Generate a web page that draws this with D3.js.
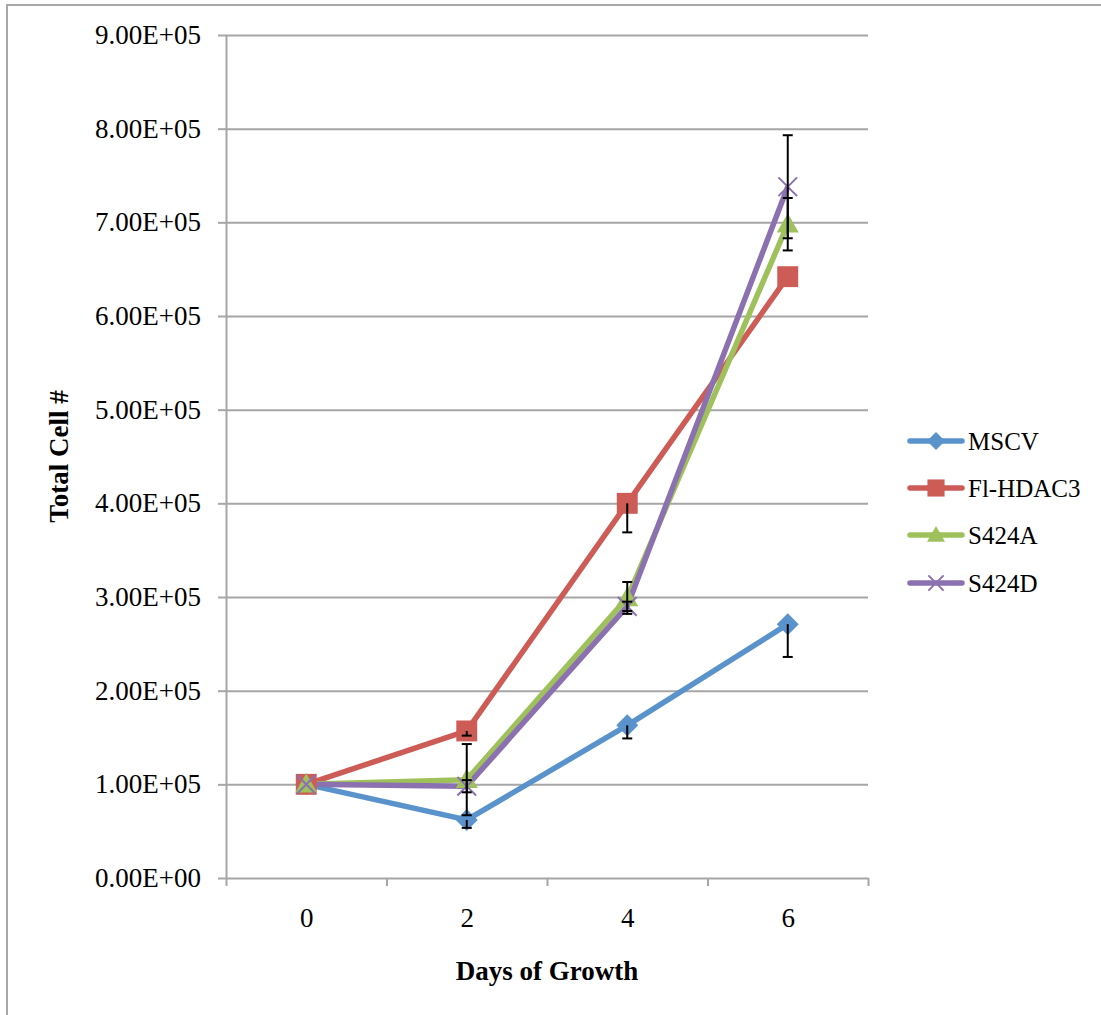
<!DOCTYPE html>
<html>
<head>
<meta charset="utf-8">
<script src="https://cdn.jsdelivr.net/npm/d3@7"></script>
<style>
  html, body { margin: 0; padding: 0; background: #fff; }
  svg { display: block; }
  text { font-family: "Liberation Serif", "DejaVu Serif", serif; fill: #000; }
</style>
</head>
<body>
<svg id="chart" width="1101" height="1015"></svg>
<script>
// ---- Data ----
const days = ["0", "2", "4", "6"];
const seriesNames = ["MSCV", "Fl-HDAC3", "S424A", "S424D"];
const mscv    = [100000, 62000, 163000, 271000];
const flHdac3 = [100000, 157000, 400000, 642000];
const s424a   = [100000, 105000, 299000, 698000];
const s424d   = [100000, 98000, 290000, 738000];
// error amounts (plus / minus)
const mscvErrPlus     = [0, 0, 0, 0];
const mscvErrMinus    = [0, 8500, 14000, 35000];
const flHdac3ErrPlus  = [0, 0, 0, 0];
const flHdac3ErrMinus = [0, 5000, 31000, 0];
const s424aErrPlus    = [0, 38000, 17000, 28000];
const s424aErrMinus   = [0, 38000, 17000, 28000];
const s424dErrPlus    = [0, 6500, 5000, 55000];
const s424dErrMinus   = [0, 6500, 5000, 55000];
const yTickValues = [0, 100000, 200000, 300000, 400000, 500000, 600000, 700000, 800000, 900000];
const xTitle = "Days of Growth";
const yTitle = "Total Cell #";

const colors = ["#5a93cc", "#cd5c56", "#9fc15c", "#8c71b0"];
const shapes = ["diamond", "square", "triangle", "x"];

const series = [
  {name: seriesNames[0], values: mscv, ep: mscvErrPlus, em: mscvErrMinus},
  {name: seriesNames[1], values: flHdac3, ep: flHdac3ErrPlus, em: flHdac3ErrMinus},
  {name: seriesNames[2], values: s424a, ep: s424aErrPlus, em: s424aErrMinus},
  {name: seriesNames[3], values: s424d, ep: s424dErrPlus, em: s424dErrMinus}
];

// ---- Layout ----
const svg = d3.select("#chart");
const L = 226, R = 868, T = 35, B = 878;
const gridColor = "#a6a6a6";
const fs = "27px";

// outer border
svg.append("rect").attr("x", 7).attr("y", 5).attr("width", 1200).attr("height", 1200)
  .attr("fill", "none").attr("stroke", "#a8a8a8").attr("stroke-width", 2);

const x = d3.scalePoint().domain(days).range([L, R]).padding(0.5);
const xEdges = d3.scaleLinear().domain([0, days.length]).range([L, R]);
const y = d3.scaleLinear().domain([0, 900000]).range([B, T]);

function fmtE(v) {
  if (v === 0) return "0.00E+00";
  const e = Math.floor(Math.log10(v));
  const m = v / Math.pow(10, e);
  return m.toFixed(2) + "E+" + String(e).padStart(2, "0");
}

// gridlines
const grid = svg.append("g").attr("transform", `translate(${L},0)`)
  .call(d3.axisLeft(y).tickValues(yTickValues.slice(1)).tickSize(-(R - L)).tickFormat(""));
grid.select(".domain").remove();
grid.selectAll("line").attr("stroke", gridColor).attr("stroke-width", 2);

// y axis
const yAxis = svg.append("g").attr("transform", `translate(${L},0)`)
  .call(d3.axisLeft(y).tickValues(yTickValues).tickSize(8).tickSizeOuter(0).tickPadding(17).tickFormat(fmtE));
yAxis.select(".domain").attr("stroke", gridColor).attr("stroke-width", 2);
yAxis.selectAll(".tick line").attr("stroke", gridColor).attr("stroke-width", 2);
yAxis.selectAll("text").style("font-size", fs).attr("font-family", null);

// x axis tick marks between categories
const xMarks = svg.append("g").attr("transform", `translate(0,${B})`)
  .call(d3.axisBottom(xEdges).tickValues(d3.range(0, days.length + 1)).tickSize(8).tickSizeOuter(0).tickFormat(""));
xMarks.select(".domain").attr("stroke", gridColor).attr("stroke-width", 2);
xMarks.selectAll(".tick line").attr("stroke", gridColor).attr("stroke-width", 2);

// x labels
const xLab = svg.append("g").attr("transform", `translate(0,${B})`)
  .call(d3.axisBottom(x).tickSize(0).tickPadding(30));
xLab.select(".domain").remove();
xLab.selectAll("text").style("font-size", fs).attr("font-family", null);

// titles
svg.append("text").attr("x", (L + R) / 2).attr("y", 980).attr("text-anchor", "middle")
  .style("font-size", fs).style("font-weight", "bold").text(xTitle);
svg.append("text").attr("transform", `translate(68,${(T + B) / 2}) rotate(-90)`)
  .attr("text-anchor", "middle").style("font-size", fs).style("font-weight", "bold").text(yTitle);

// ---- marks ----
function drawMarker(g, shape, cx, cy, color, s) {
  if (shape === "diamond") {
    g.append("path").attr("d", `M${cx},${cy - s}L${cx + s},${cy}L${cx},${cy + s}L${cx - s},${cy}Z`).attr("fill", color);
  } else if (shape === "square") {
    g.append("rect").attr("x", cx - s * 0.95).attr("y", cy - s * 0.95).attr("width", s * 1.9).attr("height", s * 1.9).attr("fill", color);
  } else if (shape === "triangle") {
    g.append("path").attr("d", `M${cx},${cy - s}L${cx + s},${cy + s * 0.75}L${cx - s},${cy + s * 0.75}Z`).attr("fill", color);
  } else {
    const d = s * 0.85;
    g.append("path").attr("d", `M${cx - d},${cy - d}L${cx + d},${cy + d}M${cx - d},${cy + d}L${cx + d},${cy - d}`)
      .attr("stroke", color).attr("stroke-width", 2).attr("fill", "none");
  }
}

const line = d3.line().x((d, i) => x(days[i])).y(d => y(d));
const lineG = svg.append("g");
series.forEach((s, k) => {
  lineG.append("path").datum(s.values).attr("d", line)
    .attr("fill", "none").attr("stroke", colors[k]).attr("stroke-width", 5.5).attr("stroke-linejoin", "round");
});
const markG = svg.append("g");
series.forEach((s, k) => {
  s.values.forEach((v, i) => drawMarker(markG, shapes[k], x(days[i]), y(v), colors[k], 11));
});
const errG = svg.append("g").attr("stroke", "#000").attr("stroke-width", 2);
series.forEach((s, k) => {
  s.values.forEach((v, i) => {
    const cx = x(days[i]);
    if (s.ep[i] > 0) {
      errG.append("line").attr("x1", cx).attr("x2", cx).attr("y1", y(v)).attr("y2", y(v + s.ep[i]));
      errG.append("line").attr("x1", cx - 5).attr("x2", cx + 5).attr("y1", y(v + s.ep[i])).attr("y2", y(v + s.ep[i]));
    }
    if (s.em[i] > 0) {
      errG.append("line").attr("x1", cx).attr("x2", cx).attr("y1", y(v)).attr("y2", y(v - s.em[i]));
      errG.append("line").attr("x1", cx - 5).attr("x2", cx + 5).attr("y1", y(v - s.em[i])).attr("y2", y(v - s.em[i]));
    }
  });
});

// legend
const legRows = [441, 488, 535, 583];
const leg = svg.append("g");
series.forEach((s, k) => {
  const yy = legRows[k];
  leg.append("line").attr("x1", 910).attr("x2", 962).attr("y1", yy).attr("y2", yy)
    .attr("stroke", colors[k]).attr("stroke-width", 5.5).attr("stroke-linecap", "round");
  drawMarker(leg, shapes[k], 936, yy, colors[k], 9);
  leg.append("text").attr("x", 968).attr("y", yy).attr("dy", "0.35em")
    .style("font-size", "25px").text(s.name);
});
</script>
</body>
</html>
